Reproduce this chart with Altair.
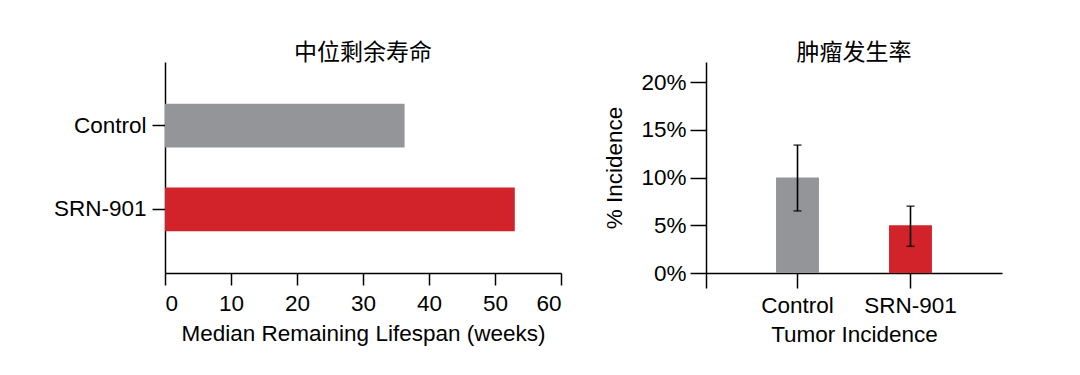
import altair as alt
import pandas as pd

groups = ["Control", "SRN-901"]
lifespan_weeks = [36.3, 53.0]
incidence_pct = [10.0, 5.0]
incidence_low = [6.5, 2.8]
incidence_high = [13.4, 7.0]
bar_colors = ["#939598", "#D2232A"]
lifespan_ticks = [0, 10, 20, 30, 40, 50, 60]
incidence_ticks = [0, 5, 10, 15, 20]

FONT = "Liberation Sans"
CJK = "Noto Sans CJK SC"
FS = 22.5

df_l = pd.DataFrame({"group": groups, "weeks": lifespan_weeks})
df_r = pd.DataFrame({"group": groups, "pct": incidence_pct,
                     "lo": incidence_low, "hi": incidence_high})

color = alt.Color("group:N", scale=alt.Scale(domain=groups, range=bar_colors), legend=None)

title_style = dict(font=CJK, fontSize=23, fontWeight="normal", anchor="middle",
                   color="black", offset=-3)

left = alt.Chart(df_l).mark_bar().encode(
    x=alt.X("weeks:Q", scale=alt.Scale(domain=[0, 60], nice=False),
            axis=alt.Axis(values=lifespan_ticks, title="Median Remaining Lifespan (weeks)",
                          tickSize=12, labelPadding=7, titlePadding=8)),
    y=alt.Y("group:N", sort=groups,
            scale=alt.Scale(paddingInner=0.48, paddingOuter=0.5),
            axis=alt.Axis(title=None, tickSize=13, labelPadding=6, minExtent=152)),
    color=color,
).properties(width=396, height=211,
             title=alt.TitleParams("中位剩余寿命", **title_style))

x_r = alt.X("group:N", sort=groups,
            scale=alt.Scale(paddingInner=0.62, paddingOuter=0.62),
            axis=alt.Axis(title="Tumor Incidence", labelAngle=0, offset=-15,
                          tickSize=15, labelPadding=6, titlePadding=7))
y_r = alt.Y("pct:Q", scale=alt.Scale(domain=[-1.57, 22.1], nice=False),
            axis=alt.Axis(values=incidence_ticks, labelExpr="datum.value + '%'",
                          title="% Incidence", tickSize=16, labelPadding=4,
                          titleY=105.5, titlePadding=14))

bars = alt.Chart(df_r).mark_bar().encode(x=x_r, y=y_r, color=color)
rules = alt.Chart(df_r).mark_rule(color="black", strokeWidth=1.6).encode(
    x=alt.X("group:N", sort=groups), y="lo:Q", y2="hi:Q")
caps_hi = alt.Chart(df_r).mark_tick(color="black", thickness=1.6, size=8).encode(
    x=alt.X("group:N", sort=groups), y="hi:Q")
caps_lo = alt.Chart(df_r).mark_tick(color="black", thickness=1.6, size=8).encode(
    x=alt.X("group:N", sort=groups), y="lo:Q")

right = alt.layer(bars, rules, caps_hi, caps_lo).properties(
    width=296, height=226,
    title=alt.TitleParams("肿瘤发生率", **title_style))

chart = alt.hconcat(left, right, spacing=145, bounds="flush").properties(
    padding={"left": 5, "top": 34, "right": 5, "bottom": 5}
).configure_view(stroke=None).configure_axis(
    grid=False, domainColor="black", domainWidth=1.5, tickColor="black", tickWidth=1.5,
    labelFont=FONT, labelFontSize=FS, labelColor="black",
    titleFont=FONT, titleFontSize=FS, titleFontWeight="normal", titleColor="black",
)

chart.save("out.html", embed_options={"renderer": "svg", "actions": False})
